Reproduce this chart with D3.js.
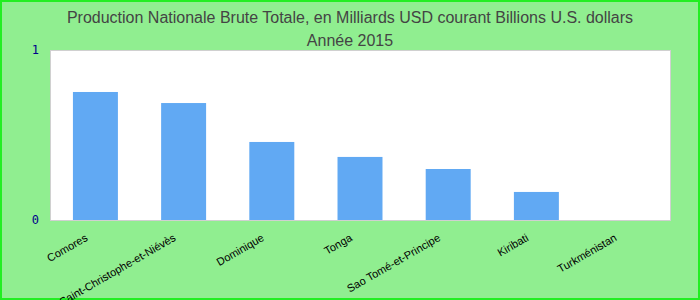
<!DOCTYPE html>
<html>
<head>
<meta charset="utf-8">
<script src="https://cdn.jsdelivr.net/npm/d3@7"></script>
<style>
  html, body { margin: 0; padding: 0; }
  body { width: 700px; height: 300px; overflow: hidden; }
</style>
</head>
<body>
<script>
// Chart data
const countries = ["Comores", "Saint-Christophe-et-Niévès", "Dominique", "Tonga",
  "Sao Tomé-et-Principe", "Kiribati", "Turkménistan"];
const values = [0.753, 0.688, 0.459, 0.371, 0.30, 0.165, 0];
const yTicks = [0, 1];
const titleLines = ["Production Nationale Brute Totale, en Milliards USD courant Billions U.S. dollars",
  "Année 2015"];

const width = 700;
const height = 300;
const plot = { left: 50, right: 670, top: 50, bottom: 220 };

const svg = d3.select("body")
  .append("svg")
  .attr("width", width)
  .attr("height", height)
  .style("display", "block");

// background + outer border
svg.append("rect")
  .attr("x", 1).attr("y", 1)
  .attr("width", width - 2).attr("height", height - 2)
  .attr("fill", "#90ee90")
  .attr("stroke", "#22ee22")
  .attr("stroke-width", 2);

// title
svg.append("g")
  .selectAll("text")
  .data(titleLines)
  .join("text")
  .attr("x", width / 2)
  .attr("y", (d, i) => 23 + i * 23)
  .attr("text-anchor", "middle")
  .attr("fill", "#444")
  .style("font", "16px 'Liberation Sans', Arial, sans-serif")
  .text((d) => d);

const x = d3.scaleBand()
  .domain(countries)
  .range([plot.left, plot.right])
  .paddingInner(0.49)
  .paddingOuter(0.26);

const y = d3.scaleLinear()
  .domain([0, 1])
  .range([plot.bottom, plot.top]);

// plot area
svg.append("rect")
  .attr("x", plot.left + 0.5)
  .attr("y", plot.top + 0.5)
  .attr("width", plot.right - plot.left)
  .attr("height", plot.bottom - plot.top)
  .attr("fill", "white")
  .attr("stroke", "#d0d0d0")
  .attr("stroke-width", 1);

// bars
svg.append("g")
  .selectAll("rect")
  .data(countries)
  .join("rect")
  .attr("x", (d) => x(d))
  .attr("y", (d, i) => y(values[i]))
  .attr("width", x.bandwidth())
  .attr("height", (d, i) => y(0) - y(values[i]))
  .attr("fill", "#61a9f3");

// y axis labels
const yAxis = svg.append("g")
  .attr("transform", `translate(${plot.left},0)`)
  .call(d3.axisLeft(y).tickValues(yTicks).tickFormat(d3.format("d")).tickSize(0).tickPadding(11));
yAxis.select(".domain").remove();
yAxis.selectAll("text")
  .attr("fill", "#00008b")
  .style("font", "12px 'DejaVu Sans Mono', monospace");

// x axis labels
const xAxis = svg.append("g")
  .attr("transform", `translate(0,${plot.bottom})`)
  .call(d3.axisBottom(x).tickSize(0).tickPadding(0));
xAxis.select(".domain").remove();
xAxis.selectAll("text")
  .attr("fill", "#000")
  .style("font", "11px 'Liberation Sans', Arial, sans-serif")
  .attr("text-anchor", "end")
  .attr("dy", 0)
  .attr("transform", "translate(-7,20) rotate(-30)");
</script>
</body>
</html>
